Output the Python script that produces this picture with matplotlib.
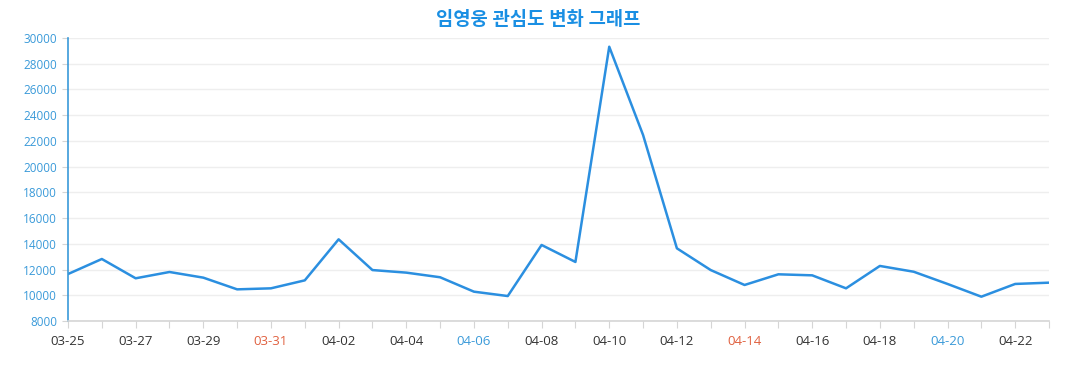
import matplotlib.pyplot as plt
import numpy as np

plt.rcParams["font.family"] = ["Open Sans", "Noto Sans CJK KR", "DejaVu Sans"]

dates = [
    "03-25", "03-26", "03-27", "03-28", "03-29", "03-30", "03-31",
    "04-01", "04-02", "04-03", "04-04", "04-05", "04-06", "04-07",
    "04-08", "04-09", "04-10", "04-11", "04-12", "04-13", "04-14",
    "04-15", "04-16", "04-17", "04-18", "04-19", "04-20", "04-21",
    "04-22", "04-23",
]
interest = [
    11650, 12820, 11320, 11810, 11370, 10460, 10540,
    11160, 14350, 11960, 11760, 11400, 10280, 9940,
    13910, 12590, 29320, 22460, 13650, 11960, 10800,
    11630, 11550, 10540, 12280, 11830, 10880, 9890,
    10880, 10980,
]
y_ticks = list(range(8000, 30001, 2000))
# dates whose tick label is coloured (holidays / weekends)
red_dates = ["03-31", "04-14"]
blue_dates = ["04-06", "04-20"]

BLUE = "#2b8fe0"
LABEL_BLUE = "#3a9ad9"
RED = "#e0603f"

fig = plt.figure(figsize=(10.77, 3.9), dpi=100)
ax = fig.add_axes([68 / 1077, 1 - 321 / 390, (1049 - 68) / 1077, (321 - 38) / 390])

x = np.arange(len(dates))
ax.plot(x, interest, color=BLUE, linewidth=1.8)

ax.set_xlim(0, len(dates) - 1)
ax.set_ylim(8000, 30000)
ax.set_yticks(y_ticks)
ax.set_yticklabels([str(v) for v in y_ticks], fontsize=8.5)

ax.set_xticks(x)
ax.set_xticklabels([d if i % 2 == 0 else "" for i, d in enumerate(dates)], fontsize=9.5)

# grid and spines
ax.grid(axis="y", color="#eeeeee", linewidth=1)
ax.set_axisbelow(True)
for side in ["top", "right"]:
    ax.spines[side].set_visible(False)
ax.spines["left"].set_color(LABEL_BLUE)
ax.spines["left"].set_linewidth(1.2)
ax.spines["bottom"].set_color("#d5d5d5")
ax.spines["bottom"].set_linewidth(1.2)
ax.tick_params(axis="x", colors="#d5d5d5", length=5, pad=5)
ax.tick_params(axis="y", colors="#d5d5d5", length=4, pad=4)
for lbl, d in zip(ax.get_xticklabels(), dates):
    lbl.set_color(RED if d in red_dates else LABEL_BLUE if d in blue_dates else "#333333")
for lbl in ax.get_yticklabels():
    lbl.set_color(LABEL_BLUE)

fig.text(0.5, 1 - 20 / 390, "임영웅 관심도 변화 그래프", ha="center", va="center",
         fontsize=13.5, fontweight="bold", color="#1a8fe3")

plt.savefig("out.png", dpi=100)
